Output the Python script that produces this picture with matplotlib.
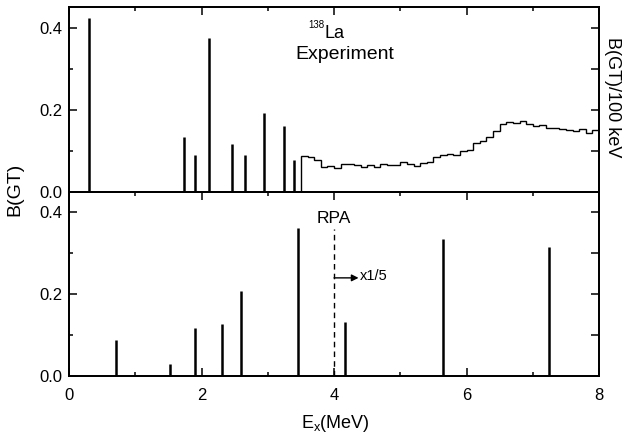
import matplotlib
matplotlib.use("Agg")
import matplotlib.pyplot as plt
import numpy as np
from matplotlib.ticker import MultipleLocator, NullFormatter

plt.rcParams['font.family'] = ['Liberation Sans', 'DejaVu Sans']
plt.rcParams['mathtext.fontset'] = 'custom'
plt.rcParams['mathtext.rm'] = 'Liberation Sans'
plt.rcParams['mathtext.it'] = 'Liberation Sans'

# ---- experiment: discrete levels (MeV, B(GT)) ----
exp_E = [0.30, 1.74, 1.90, 2.11, 2.46, 2.66, 2.94, 3.24, 3.40]
exp_B = [0.424, 0.134, 0.090, 0.375, 0.118, 0.091, 0.193, 0.160, 0.077]

# ---- experiment: continuum, 100 keV bins 3.5 - 8.0 MeV ----
hist_lo, hist_hi = 3.5, 8.0
hist_B = [0.087, 0.086, 0.079, 0.060, 0.063, 0.058, 0.068, 0.068, 0.066, 0.062,
          0.067, 0.062, 0.068, 0.065, 0.065, 0.072, 0.068, 0.064, 0.071, 0.074,
          0.085, 0.090, 0.093, 0.091, 0.099, 0.103, 0.119, 0.125, 0.133, 0.149,
          0.165, 0.171, 0.169, 0.172, 0.166, 0.162, 0.164, 0.156, 0.155, 0.154,
          0.151, 0.149, 0.154, 0.144, 0.150]
hist_edges = np.linspace(hist_lo, hist_hi, len(hist_B) + 1)

# ---- RPA ----
rpa_E = [0.71, 1.52, 1.90, 2.31, 2.60, 3.46, 4.16, 5.65, 7.24]
rpa_B = [0.087, 0.030, 0.117, 0.128, 0.208, 0.361, 0.133, 0.336, 0.315]
rpa_cut = 4.0

fig = plt.figure(figsize=(6.24, 4.37), dpi=100)
ax1 = fig.add_axes([0.1106, 0.5606, 0.8494, 0.4224])
ax2 = fig.add_axes([0.1106, 0.1396, 0.8494, 0.4210])


def style(ax, show_x):
    ax.set_xlim(0, 8)
    ax.set_ylim(0, 0.45)
    ax.xaxis.set_major_locator(MultipleLocator(2))
    ax.xaxis.set_minor_locator(MultipleLocator(1))
    ax.yaxis.set_major_locator(MultipleLocator(0.2))
    ax.yaxis.set_minor_locator(MultipleLocator(0.1))
    ax.yaxis.set_major_formatter(lambda v, p: f"{v:.1f}")
    ax.tick_params(which='both', direction='in', top=True, right=False,
                   bottom=show_x, width=1.1, labelsize=12, pad=5)
    ax.tick_params(which='major', length=6)
    ax.tick_params(which='minor', length=3)
    if show_x:
        ax.tick_params(axis='x', pad=9)
    else:
        ax.tick_params(axis='x', labelbottom=False)
    for s in ax.spines.values():
        s.set_linewidth(1.3)
    # right-hand ticks without labels
    axr = ax.twinx()
    axr.set_ylim(0, 0.45)
    axr.set_yticks([0, 0.1, 0.2, 0.3, 0.4])
    axr.yaxis.set_major_formatter(NullFormatter())
    axr.tick_params(direction='in', length=6, width=1.1)
    for s in axr.spines.values():
        s.set_linewidth(1.3)
    return axr


style(ax1, False)
style(ax2, True)

# top panel
ax1.vlines(exp_E, 0, exp_B, color='black', lw=1.8)
ax1.stairs(hist_B, hist_edges, baseline=0, color='black', lw=1.0)
ax1.text(3.85, 0.408, '138', fontsize=7, ha='right', va='center')
ax1.text(3.85, 0.387, 'La', fontsize=13, ha='left', va='center')
ax1.text(4.17, 0.336, 'Experiment', fontsize=14, ha='center', va='center')

# bottom panel
ax2.vlines(rpa_E, 0, rpa_B, color='black', lw=1.8)
ax2.plot([rpa_cut, rpa_cut], [0, 0.359], color='black', lw=1.0, ls=(0, (4, 3)))
ax2.text(3.99, 0.386, 'RPA', fontsize=12.5, ha='center', va='center')
ax2.annotate('', xy=(4.37, 0.240), xytext=(rpa_cut, 0.240),
             arrowprops=dict(arrowstyle='-|>', color='black', lw=1.0,
                             mutation_scale=10, shrinkA=0, shrinkB=0))
ax2.text(4.39, 0.245, 'x1/5', fontsize=10.5, ha='left', va='center')

fig.text(0.538, 0.0206, r'E$_\mathregular{x}$(MeV)', fontsize=13, ha='center', va='baseline')
fig.text(0.024, 0.567, 'B(GT)', fontsize=14, rotation=90, ha='center', va='center')
fig.text(0.982, 0.778, 'B(GT)/100 keV', fontsize=13, rotation=270, ha='center', va='center')

fig.savefig('out.png', dpi=100)
